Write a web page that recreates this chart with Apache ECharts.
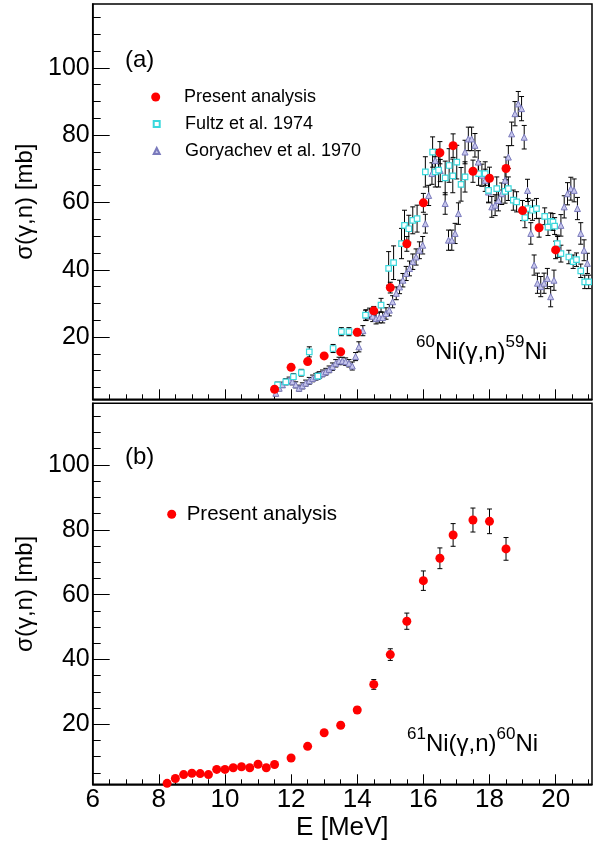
<!DOCTYPE html>
<html>
<head>
<meta charset="utf-8">
<script src="https://cdn.jsdelivr.net/npm/echarts@6/dist/echarts.min.js"></script>
<style>
  html, body { margin: 0; padding: 0; background: #fff; }
  #chart { width: 594px; height: 845px; }
</style>
</head>
<body>
<div id="chart"></div>
<script>
const FONT = 'Liberation Sans, Arial, Helvetica, sans-serif';

// ---- axis ticks ----
const xMajorTicks = [6, 8, 10, 12, 14, 16, 18, 20];
const xMinorTicks = [6.5, 7, 7.5, 8.5, 9, 9.5, 10.5, 11, 11.5, 12.5, 13, 13.5, 14.5, 15, 15.5,
                     16.5, 17, 17.5, 18.5, 19, 19.5, 20.5, 21];
const yMajorTicks = [20, 40, 60, 80, 100];
const yMinorTicks = [5, 10, 15, 25, 30, 35, 45, 50, 55, 65, 70, 75, 85, 90, 95, 105, 110, 115];

// ---- (a) 60Ni(g,n)59Ni : present analysis ----
const ni60E   = [11.5, 12, 12.5, 13, 13.5, 14, 14.5, 15, 15.5, 16, 16.5, 16.9, 17.5, 18, 18.5, 19, 19.5, 20];
const ni60XS  = [4.5, 11.0, 12.7, 14.4, 15.6, 21.4, 27.8, 34.7, 47.7, 59.9, 74.8, 76.9, 69.3, 67.2, 70.1, 57.6, 52.5, 45.9];
const ni60Err = [0.5, 0.6, 0.7, 0.8, 0.8, 1.0, 1.3, 1.6, 2.2, 2.8, 3.3, 3.5, 3.3, 3.3, 3.4, 3.0, 2.8, 2.6];

// ---- (a) Fultz et al. 1974 ----
const fultzE   = [11.59, 11.84, 12.07, 12.31, 12.55, 12.81, 13.27, 13.52, 13.75, 14.25, 14.72, 14.95, 15.1,
                  15.34, 15.43, 15.56, 15.68, 15.81, 16.06, 16.28, 16.36, 16.46, 16.66, 16.78, 16.89, 17.01,
                  17.14, 17.26, 17.67, 17.87, 17.97, 18.22, 18.47, 18.57, 18.72, 18.82, 19.07, 19.17, 19.3,
                  19.42, 19.67, 19.77, 19.85, 19.92, 19.97, 20.05, 20.16, 20.4, 20.53, 20.63, 20.76, 20.88, 21.0];
const fultzXS  = [5.8, 6.7, 8.2, 9.4, 15.6, 8.4, 16.6, 21.6, 21.6, 26.5, 29.5, 40.4, 42.1,
                  47.8, 53.2, 52.2, 54.7, 55.2, 69.1, 75.0, 69.1, 69.6, 67.3, 71.0, 67.9, 72.0,
                  65.4, 67.6, 68.6, 68.6, 63.6, 64.1, 63.3, 64.1, 60.7, 60.2, 55.5, 58.2, 57.7,
                  58.2, 55.9, 52.7, 54.4, 54.2, 53.0, 47.8, 44.8, 43.8, 42.4, 43.0, 39.7, 36.4, 36.4];
const fultzErr = [0.8, 0.8, 0.9, 1.0, 1.5, 1.0, 1.2, 1.2, 1.2, 1.5, 2.0, 5.0, 5.0,
                  4.5, 4.5, 4.0, 4.0, 4.0, 4.5, 4.5, 4.5, 5.0, 5.0, 5.0, 5.0, 5.0,
                  5.0, 4.5, 3.5, 3.5, 3.5, 3.5, 3.5, 3.5, 3.0, 3.0, 3.0, 3.0, 3.0,
                  3.0, 2.5, 2.5, 2.5, 2.5, 2.5, 2.5, 2.5, 2.0, 2.0, 2.0, 2.0, 2.0, 2.0];

// ---- (a) Goryachev et al. 1970 ----
const goryE   = [11.54, 11.64, 11.74, 11.84, 11.94, 12.04, 12.14, 12.24, 12.34, 12.44, 12.55, 12.65, 12.75,
                 12.85, 12.95, 13.05, 13.15, 13.25, 13.35, 13.45, 13.55, 13.65, 13.75, 13.85, 13.95, 14.05,
                 14.17, 14.27, 14.37, 14.47, 14.57, 14.67, 14.77, 14.87, 14.97, 15.07, 15.18, 15.28, 15.38,
                 15.48, 15.58, 15.68, 15.78, 15.88, 15.98, 16.06, 16.16, 16.26, 16.36, 16.51, 16.66, 16.76,
                 16.86, 16.96, 17.06, 17.26, 17.36, 17.46, 17.56, 17.66, 17.77, 17.87, 17.97, 18.07, 18.17,
                 18.27, 18.37, 18.47, 18.57, 18.67, 18.77, 18.87, 18.97, 19.05, 19.15, 19.25, 19.35, 19.45,
                 19.55, 19.65, 19.75, 19.85, 19.95, 20.06, 20.16, 20.26, 20.36, 20.46, 20.56, 20.66, 20.76,
                 20.86, 20.96];
const goryXS  = [3.3, 4.8, 5.8, 6.7, 7.2, 6.7, 5.8, 4.8, 5.5, 6.3, 7.0, 7.7, 8.2,
                 8.7, 9.2, 9.7, 10.4, 11.2, 12.2, 12.9, 12.9, 12.7, 12.2, 11.4, 14.2, 17.1,
                 21.9, 26.5, 27.0, 26.2, 25.5, 25.8, 25.8, 27.0, 28.0, 30.5, 33.0, 34.9, 36.9,
                 38.9, 40.4, 42.4, 43.8, 45.8, 47.3, 53.7, 62.1, 68.6, 72.5, 69.5, 59.7, 48.8,
                 48.8, 50.8, 56.7, 75.0, 78.9, 78.9, 77.0, 72.0, 68.1, 66.6, 63.1, 58.7, 59.2,
                 60.6, 62.6, 66.6, 73.5, 80.4, 86.4, 89.3, 87.9, 79.4, 63.6, 50.8, 41.4, 36.0,
                 35.0, 36.0, 37.4, 32.0, 36.9, 46.8, 53.2, 58.7, 62.6, 64.1, 63.6, 58.2, 50.8,
                 45.8, 41.9];
const goryErr = [0.8, 0.8, 0.8, 0.9, 0.9, 0.9, 0.9, 0.9, 0.9, 0.9, 1.0, 1.0, 1.0,
                 1.0, 1.0, 1.0, 1.0, 1.1, 1.1, 1.1, 1.1, 1.1, 1.1, 1.2, 1.2, 1.5,
                 1.5, 1.6, 1.6, 1.6, 1.6, 1.6, 1.6, 1.7, 1.7, 1.8, 1.9, 2.0, 2.0,
                 2.1, 2.2, 2.3, 2.4, 2.5, 2.6, 2.8, 3.0, 3.2, 3.3, 3.3, 3.2, 3.0,
                 3.0, 3.0, 3.2, 3.5, 3.5, 3.5, 3.5, 3.4, 3.3, 3.3, 3.2, 3.1, 3.1,
                 3.1, 3.2, 3.3, 3.4, 3.5, 3.6, 3.7, 3.6, 3.5, 3.3, 3.2, 3.0, 3.0,
                 3.0, 3.0, 3.0, 3.0, 3.0, 3.1, 3.2, 3.3, 3.3, 3.4, 3.4, 3.3, 3.2,
                 3.1, 3.0];

// ---- (b) 61Ni(g,n)60Ni : present analysis ----
const ni61E   = [8.25, 8.5, 8.75, 9.0, 9.25, 9.5, 9.75, 10.0, 10.25, 10.5, 10.75, 11.0, 11.25, 11.5,
                 12.0, 12.5, 13.0, 13.5, 14.0, 14.5, 15.0, 15.5, 16.0, 16.5, 16.9, 17.5, 18.0, 18.5];
const ni61XS  = [1.8, 3.3, 4.5, 4.9, 4.8, 4.5, 6.1, 6.1, 6.6, 6.9, 6.6, 7.7, 6.6, 7.6,
                 9.6, 13.2, 17.4, 19.7, 24.4, 32.3, 41.5, 51.8, 64.3, 71.2, 78.4, 83.0, 82.6, 74.1];
const ni61Err = [0.2, 0.2, 0.3, 0.3, 0.3, 0.3, 0.3, 0.3, 0.3, 0.3, 0.3, 0.4, 0.4, 0.4,
                 0.5, 0.6, 0.7, 0.8, 1.0, 1.5, 1.8, 2.5, 3.0, 3.2, 3.5, 3.7, 3.8, 3.5];

const X_MIN = 6, X_MAX = 21.1, Y_MIN = 1.5, Y_MAX = 119;

const points = (xs, ys) => xs.map((x, i) => [x, ys[i]]);
const bars = (xs, ys, es) => xs.map((x, i) => [x, ys[i] - es[i], ys[i] + es[i]]);

// vertical error bar with small end caps
function renderErrorBar(params, api) {
  const x = api.value(0);
  const top = api.coord([x, api.value(2)]);
  const bot = api.coord([x, api.value(1)]);
  const cap = 2.5;
  const style = { stroke: '#000', lineWidth: 1 };
  return {
    type: 'group',
    children: [
      { type: 'line', shape: { x1: top[0], y1: top[1], x2: bot[0], y2: bot[1] }, style },
      { type: 'line', shape: { x1: top[0] - cap, y1: top[1], x2: top[0] + cap, y2: top[1] }, style },
      { type: 'line', shape: { x1: bot[0] - cap, y1: bot[1], x2: bot[0] + cap, y2: bot[1] }, style }
    ]
  };
}

function errorSeries(name, xi, data) {
  return {
    name, type: 'custom', xAxisIndex: xi, yAxisIndex: xi,
    renderItem: renderErrorBar, data, clip: true,
    encode: { x: 0, y: [1, 2] }, z: 2, silent: true
  };
}

function xAxes(gridIndex, withLabels) {
  const main = {
    type: 'value', gridIndex, min: X_MIN, max: X_MAX, position: 'bottom',
    axisLine: { show: true, onZero: false, lineStyle: { color: '#000', width: 1.5 } },
    axisTick: { show: true, inside: true, length: 10, customValues: xMajorTicks, lineStyle: { color: '#000', width: 1 } },
    axisLabel: { show: withLabels, customValues: xMajorTicks, margin: 3, fontSize: 26, color: '#000', fontFamily: FONT },
    splitLine: { show: false }
  };
  if (withLabels) {
    Object.assign(main, {
      name: 'E [MeV]', nameLocation: 'middle', nameGap: 31,
      nameTextStyle: { fontSize: 26, color: '#000', fontFamily: FONT }
    });
  }
  const minor = {
    type: 'value', gridIndex, min: X_MIN, max: X_MAX, position: 'bottom',
    axisLine: { show: false },
    axisTick: { show: true, inside: true, length: 5, customValues: xMinorTicks, lineStyle: { color: '#000', width: 1 } },
    axisLabel: { show: false }, splitLine: { show: false }
  };
  return [main, minor];
}

function yAxes(gridIndex) {
  const main = {
    type: 'value', gridIndex, min: Y_MIN, max: Y_MAX, position: 'left',
    axisLine: { show: true, onZero: false, lineStyle: { color: '#000', width: 1.5 } },
    axisTick: { show: true, inside: true, length: 17, customValues: yMajorTicks, lineStyle: { color: '#000', width: 1 } },
    axisLabel: { show: true, customValues: yMajorTicks, margin: 3, fontSize: 25, color: '#000', fontFamily: FONT },
    splitLine: { show: false },
    name: 'σ(γ,n) [mb]', nameLocation: 'middle', nameGap: 54,
    nameTextStyle: { fontSize: 24, color: '#000', fontFamily: FONT }
  };
  const minor = {
    type: 'value', gridIndex, min: Y_MIN, max: Y_MAX, position: 'left',
    axisLine: { show: false },
    axisTick: { show: true, inside: true, length: 8, customValues: yMinorTicks, lineStyle: { color: '#000', width: 1 } },
    axisLabel: { show: false }, splitLine: { show: false }
  };
  return [main, minor];
}

// one legend block per entry so each marker keeps its own size
function legendEntry(name, centerX, centerY, size, textStart, fontSize) {
  const left = centerX - size / 2;
  const pad = textStart - (left + size + 5);
  return {
    data: [name], orient: 'horizontal', padding: 0, itemGap: 0, selectedMode: false,
    left, top: centerY - fontSize / 2, itemWidth: size, itemHeight: size,
    textStyle: { color: '#000', fontFamily: FONT, fontSize, padding: [0, 0, 0, pad] }
  };
}

const chart = echarts.init(document.getElementById('chart'), null, { renderer: 'canvas' });

chart.setOption({
  animation: false,
  backgroundColor: '#fff',
  grid: [
    { left: 92.7, right: 2, top: 4, height: 395.3, show: true, borderColor: '#000', borderWidth: 1.5, backgroundColor: 'transparent' },
    { left: 92.7, right: 2, top: 403.3, height: 381, show: true, borderColor: '#000', borderWidth: 1.5, backgroundColor: 'transparent' }
  ],
  xAxis: [...xAxes(0, false), ...xAxes(1, true)],
  yAxis: [...yAxes(0), ...yAxes(1)],
  legend: [
    legendEntry('Present analysis', 155.7, 97, 9, 184, 18),
    legendEntry('Fultz et al. 1974', 155.7, 124, 6, 184, 18),
    legendEntry('Goryachev et al. 1970', 155.7, 151, 6, 184, 18),
    legendEntry('Present analysis', 171.7, 514, 9, 186.7, 20.5)
  ],
  graphic: [
    { type: 'text', x: 125, y: 60, style: { text: '(a)', fontSize: 24, fontFamily: FONT, fill: '#000', verticalAlign: 'middle' } },
    { type: 'text', x: 125, y: 457, style: { text: '(b)', fontSize: 24, fontFamily: FONT, fill: '#000', verticalAlign: 'middle' } },
    {
      type: 'text', x: 416, y: 352,
      style: {
        text: '{s|60}{m|Ni(γ,n)}{s|59}{m|Ni}', fontFamily: FONT, fill: '#000', verticalAlign: 'middle',
        rich: {
          m: { fontSize: 24, lineHeight: 37, fontFamily: FONT, fill: '#000' },
          s: { fontSize: 17, lineHeight: 17, verticalAlign: 'top', fontFamily: FONT, fill: '#000' }
        }
      }
    },
    {
      type: 'text', x: 407, y: 744.5,
      style: {
        text: '{s|61}{m|Ni(γ,n)}{s|60}{m|Ni}', fontFamily: FONT, fill: '#000', verticalAlign: 'middle',
        rich: {
          m: { fontSize: 24, lineHeight: 37, fontFamily: FONT, fill: '#000' },
          s: { fontSize: 17, lineHeight: 17, verticalAlign: 'top', fontFamily: FONT, fill: '#000' }
        }
      }
    }
  ],
  series: [
    // panel (a)
    errorSeries('Goryachev errors', 0, bars(goryE, goryXS, goryErr)),
    errorSeries('Fultz errors', 0, bars(fultzE, fultzXS, fultzErr)),
    errorSeries('Present errors a', 0, bars(ni60E, ni60XS, ni60Err)),
    {
      name: 'Goryachev et al. 1970', type: 'scatter', xAxisIndex: 0, yAxisIndex: 0,
      data: points(goryE, goryXS), symbol: 'triangle', symbolSize: 6, z: 3,
      itemStyle: { color: '#c6c6ec', borderColor: '#7a7abc', borderWidth: 1, opacity: 1 }
    },
    {
      name: 'Fultz et al. 1974', type: 'scatter', xAxisIndex: 0, yAxisIndex: 0,
      data: points(fultzE, fultzXS), symbol: 'rect', symbolSize: 5.5, z: 4,
      itemStyle: { color: '#ffffff', borderColor: '#3ad8dc', borderWidth: 1.2, opacity: 1 }
    },
    {
      name: 'Present analysis', type: 'scatter', xAxisIndex: 0, yAxisIndex: 0,
      data: points(ni60E, ni60XS), symbol: 'circle', symbolSize: 9, z: 5,
      itemStyle: { color: '#ff0000', opacity: 1 }
    },
    // panel (b)
    errorSeries('Present errors b', 2, bars(ni61E, ni61XS, ni61Err)),
    {
      name: 'Present analysis', type: 'scatter', xAxisIndex: 2, yAxisIndex: 2,
      data: points(ni61E, ni61XS), symbol: 'circle', symbolSize: 9, z: 5,
      itemStyle: { color: '#ff0000', opacity: 1 }
    }
  ]
});
</script>
</body>
</html>
